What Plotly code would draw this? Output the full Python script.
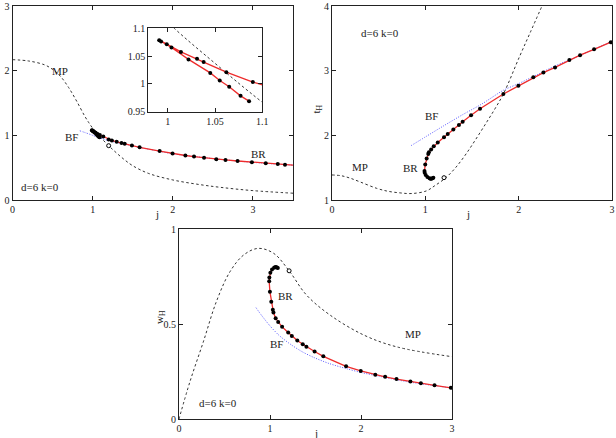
import plotly.graph_objects as go

# ---------------- data ----------------
# BR branch: common parameter points (j, f, t_H, w_H)
br_j = [1.086, 1.077, 1.065, 1.055, 1.045, 1.022, 1.004, 0.993, 0.991, 0.999, 1.014, 1.031, 1.038, 1.062, 1.09,
        1.133, 1.2, 1.24, 1.30, 1.36, 1.40, 1.49, 1.586, 1.836, 1.997, 2.157, 2.265, 2.39, 2.543, 2.658, 2.808, 2.987]
br_f = [0.969, 0.9785, 0.995, 1.006, 1.0198, 1.0441, 1.0654, 1.0763, 1.0787, 1.0715, 1.0575, 1.0453, 1.0393, 1.0211, 1.0034,
        0.982, 0.937, 0.922, 0.900, 0.882, 0.870, 0.842, 0.815, 0.757, 0.718, 0.688, 0.672, 0.652, 0.632, 0.619, 0.603, 0.585]
br_t = [1.345, 1.335, 1.33, 1.33, 1.335, 1.355, 1.385, 1.42, 1.45, 1.55, 1.64, 1.71, 1.74, 1.78, 1.83,
        1.89, 1.97, 2.02, 2.09, 2.16, 2.21, 2.31, 2.41, 2.64, 2.765, 2.897, 2.97, 3.05, 3.165, 3.24, 3.33, 3.44]
br_w = [0.795, 0.798, 0.80, 0.799, 0.796, 0.787, 0.77, 0.745, 0.725, 0.67, 0.617, 0.575, 0.56, 0.53, 0.51,
        0.485, 0.455, 0.437, 0.413, 0.393, 0.38, 0.355, 0.33, 0.277, 0.253, 0.233, 0.222, 0.21, 0.197, 0.188, 0.177, 0.164]
# extension of BR in the first panel (j axis goes to 3.5)
br_j_ext = [3.16, 3.31, 3.4, 3.5]
br_f_ext = [0.568, 0.555, 0.547, 0.54]

# MP curves
mp1_j = [0, 0.2, 0.4, 0.5, 0.6, 0.7, 0.8, 0.9, 0.95, 1.0, 1.05, 1.1, 1.2, 1.3, 1.4, 1.5, 1.7, 2.0, 2.3, 2.6, 3.0, 3.5]
mp1_f = [2.17, 2.15, 2.09, 2.02, 1.91, 1.74, 1.53, 1.30, 1.20, 1.111, 1.037, 0.967, 0.84, 0.725, 0.62, 0.53, 0.41, 0.31, 0.245, 0.195, 0.145, 0.105]
mp2_j = [0, 0.1, 0.19, 0.3, 0.48, 0.6, 0.73, 0.854, 1.01, 1.1, 1.22, 1.33, 1.44, 1.55, 1.66, 1.75, 1.84, 2.01, 2.13, 2.25]
mp2_t = [1.387, 1.375, 1.34, 1.28, 1.18, 1.135, 1.11, 1.10, 1.14, 1.22, 1.345, 1.51, 1.72, 1.96, 2.21, 2.42, 2.65, 3.22, 3.61, 4.0]
mp3_j = [0, 0.12, 0.27, 0.41, 0.56, 0.71, 0.87, 1.04, 1.21, 1.40, 1.66, 2.03, 2.39, 3.0]
mp3_w = [0, 0.196, 0.41, 0.617, 0.775, 0.863, 0.898, 0.872, 0.78, 0.653, 0.547, 0.442, 0.38, 0.328]

# BF curves
bf1_j = [0.84, 0.9, 1.0, 1.1, 1.2, 1.3, 1.4, 1.6, 1.8, 2.0, 2.3, 2.6, 3.0, 3.5]
bf1_f = [1.07, 1.045, 1.0, 0.955, 0.918, 0.89, 0.864, 0.81, 0.762, 0.715, 0.668, 0.628, 0.582, 0.538]
bf2_j = [0.847, 1.0, 1.2, 1.4, 1.6, 1.84, 2.0, 2.2, 2.4, 2.6, 2.8, 3.0]
bf2_t = [1.84, 1.975, 2.15, 2.32, 2.48, 2.70, 2.80, 2.94, 3.08, 3.20, 3.33, 3.45]
bf3_j = [0.846, 0.9, 1.0, 1.1, 1.22, 1.35, 1.476, 1.65, 1.84, 2.0, 2.2, 2.5, 2.8, 3.0]
bf3_w = [0.586, 0.55, 0.49, 0.44, 0.395, 0.355, 0.325, 0.292, 0.265, 0.245, 0.225, 0.197, 0.176, 0.163]

# open-circle points on MP
oc_j = [1.2, 1.2, 1.21]
oc_y = [0.84, 1.345, 0.78]

# ---------------- styling ----------------
W, H = 616, 438
FONT = "Liberation Serif"
RED = "#ee2c2c"
BLUE = "#5a5aff"
GRAY = "#333333"

def px(x):
    return x / W

def py(y):
    return 1 - y / H

fig = go.Figure()

def add_panel(xa, ya, mpx, mpy, bfx, bfy, brx, bry, ocx, ocy, dots_skip_last=False):
    fig.add_trace(go.Scatter(x=mpx, y=mpy, mode="lines", line=dict(color=GRAY, width=1, dash="2.5px,2.5px", shape="spline", smoothing=1.0),
                             xaxis=xa, yaxis=ya, hoverinfo="skip"))
    if bfx is not None:
        fig.add_trace(go.Scatter(x=bfx, y=bfy, mode="lines", line=dict(color=BLUE, width=1, dash="1px,1.5px", shape="spline", smoothing=0.8),
                                 xaxis=xa, yaxis=ya, hoverinfo="skip"))
    fig.add_trace(go.Scatter(x=brx, y=bry, mode="lines", line=dict(color=RED, width=1.3),
                             xaxis=xa, yaxis=ya, hoverinfo="skip"))
    mx = brx[:-1] if dots_skip_last else brx
    my = bry[:-1] if dots_skip_last else bry
    fig.add_trace(go.Scatter(x=mx, y=my, mode="markers", marker=dict(color="black", size=4),
                             xaxis=xa, yaxis=ya, hoverinfo="skip"))
    if ocx is not None:
        fig.add_trace(go.Scatter(x=[ocx], y=[ocy], mode="markers",
                                 marker=dict(color="white", size=4, symbol="circle", line=dict(color="black", width=1)),
                                 xaxis=xa, yaxis=ya, hoverinfo="skip"))

br1_j = br_j + br_j_ext
br1_f = br_f + br_f_ext

add_panel("x", "y", mp1_j, mp1_f, bf1_j, bf1_f, br1_j, br1_f, oc_j[0], oc_y[0], dots_skip_last=True)
add_panel("x2", "y2", mp2_j, mp2_t, bf2_j, bf2_t, br_j, br_t, oc_j[1], oc_y[1])
add_panel("x3", "y3", mp3_j, mp3_w, bf3_j, bf3_w, br_j, br_w, oc_j[2], oc_y[2])
# inset
fig.add_trace(go.Scatter(x=mp1_j, y=mp1_f, mode="lines", line=dict(color=GRAY, width=1, dash="2.5px,2.5px", shape="spline", smoothing=1.0),
                         xaxis="x4", yaxis="y4", hoverinfo="skip"))
fig.add_trace(go.Scatter(x=br1_j, y=br1_f, mode="lines", line=dict(color=RED, width=1.3),
                         xaxis="x4", yaxis="y4", hoverinfo="skip"))
fig.add_trace(go.Scatter(x=br1_j, y=br1_f, mode="markers", marker=dict(color="black", size=4),
                         xaxis="x4", yaxis="y4", hoverinfo="skip"))

def ax(domain, rng, tickvals, ticktext, anchor):
    return dict(domain=domain, range=rng, tickvals=tickvals, ticktext=ticktext, anchor=anchor,
                showgrid=False, zeroline=False, showline=True, linecolor="#222", linewidth=1, mirror="ticks",
                ticks="inside", ticklen=4, tickwidth=1, tickcolor="#222",
                tickfont=dict(family=FONT, size=10, color="#222"), automargin=False, fixedrange=True)

fig.update_layout(
    width=W, height=H, margin=dict(l=0, r=0, t=0, b=0),
    paper_bgcolor="white", plot_bgcolor="white", showlegend=False,
    xaxis=ax([px(12.5), px(293)], [0, 3.5], [0, 1, 2, 3], ["0", "1", "2", "3"], "y"),
    yaxis=ax([py(200), py(6)], [0, 3], [0, 1, 2, 3], ["0", "1", "2", "3"], "x"),
    xaxis2=ax([px(332), px(612)], [0, 3], [0, 1, 2, 3], ["0", "1", "2", "3"], "y2"),
    yaxis2=ax([py(200), py(6)], [1, 4], [1, 2, 3, 4], ["1", "2", "3", "4"], "x2"),
    xaxis3=ax([px(179), px(452)], [0, 3], [0, 1, 2, 3], ["0", "1", "2", "3"], "y3"),
    yaxis3=ax([py(419), py(229)], [0, 1], [0, 0.5, 1], ["0", "0.5", "1"], "x3"),
    xaxis4=ax([px(148.3), px(262.3)], [0.9795, 1.1], [1, 1.05, 1.1], ["1", "1.05", "1.1"], "y4"),
    yaxis4=ax([py(111.7), py(28.3)], [0.95, 1.1], [0.95, 1, 1.05, 1.1], ["0.95", "1", "1.05", "1.1"], "x4"),
)

ann_font = dict(family=FONT, size=11, color="#222")
labels = [
    ("x", "y", 0.59, 1.99, "MP"), ("x", "y", 0.73, 0.98, "BF"), ("x", "y", 3.07, 0.71, "BR"), ("x", "y", 0.34, 0.2, "d=6 k=0"),
    ("x2", "y2", 0.51, 3.58, "d=6 k=0"), ("x2", "y2", 1.07, 2.30, "BF"), ("x2", "y2", 0.30, 1.51, "MP"), ("x2", "y2", 0.84, 1.50, "BR"),
    ("x3", "y3", 1.17, 0.647, "BR"), ("x3", "y3", 1.07, 0.393, "BF"), ("x3", "y3", 2.57, 0.446, "MP"), ("x3", "y3", 0.43, 0.086, "d=6 k=0"),
]
for xr, yr, xv, yv, t in labels:
    fig.add_annotation(x=xv, y=yv, xref=xr, yref=yr, text=t, showarrow=False, font=ann_font)

# axis titles
fig.add_annotation(x=px((12.5 + 293) / 2), y=py(214), xref="paper", yref="paper", text="j", showarrow=False, font=ann_font)
fig.add_annotation(x=px((332 + 612) / 2), y=py(214), xref="paper", yref="paper", text="j", showarrow=False, font=ann_font)
fig.add_annotation(x=px((179 + 452) / 2), y=py(441), xref="paper", yref="paper", text="j", showarrow=False, font=ann_font)
fig.add_annotation(x=px(316), y=py(103), xref="paper", yref="paper", text="t<sub>H</sub>", textangle=-90, showarrow=False, font=ann_font)
fig.add_annotation(x=px(151), y=py(326), xref="paper", yref="paper", text="w<sub>H</sub>", textangle=-90, showarrow=False, font=ann_font)

fig.write_html("out.html")
